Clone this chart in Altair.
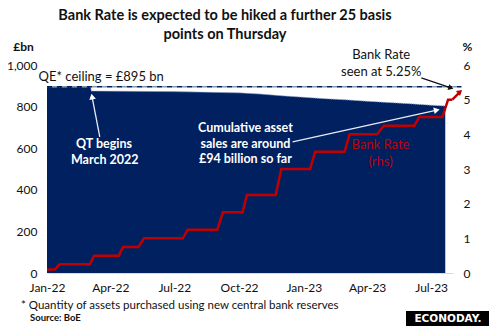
import math
import altair as alt
import pandas as pd

# ---------------- data ----------------
area_dates = ["2022-01-01", "2022-03-04", "2022-03-05", "2022-07-01", "2022-10-01",
              "2022-11-01", "2022-12-01", "2023-01-01", "2023-02-01", "2023-03-01",
              "2023-04-01", "2023-05-01", "2023-06-01", "2023-07-01", "2023-07-21"]
area_values = [895, 895, 875, 872, 866, 860, 852, 845, 838, 833, 826, 820, 814, 807, 803]

rate_dates = ["2022-01-01", "2022-01-12", "2022-01-19", "2022-03-03", "2022-03-09",
              "2022-04-13", "2022-04-19", "2022-05-11", "2022-05-19", "2022-07-13",
              "2022-07-20", "2022-08-31", "2022-09-08", "2022-10-06", "2022-10-12",
              "2022-11-22", "2022-11-30", "2023-01-10", "2023-01-17", "2023-02-28",
              "2023-03-07", "2023-04-15", "2023-04-25", "2023-06-07", "2023-06-14",
              "2023-07-17", "2023-07-25", "2023-07-31"]
rate_values = [0.1, 0.1, 0.25, 0.25, 0.5, 0.5, 0.75, 0.75, 1.0, 1.0, 1.25, 1.25, 1.75,
               1.75, 2.25, 2.25, 3.0, 3.0, 3.5, 3.5, 4.0, 4.0, 4.25, 4.25, 4.5, 4.5,
               5.0, 5.0]

# expected hike: 5.00 -> 5.25
hike_dates = ["2023-07-31", "2023-08-10"]
hike_values = [5.0, 5.2]

ceiling_dates = ["2022-01-01", "2023-08-13"]
ceiling_values = [895, 895]

x_tick_dates = ["2022-01-01", "2022-04-01", "2022-07-01", "2022-10-01",
                "2023-01-01", "2023-04-01", "2023-07-01"]
left_ticks = [0, 200, 400, 600, 800, 1000]
right_ticks = [0, 1, 2, 3, 4, 5, 6]

title_lines = ["Bank Rate is expected to be hiked a further 25 basis",
               "points on Thursday"]

# annotations (anchored in data coordinates: date, £bn)
black_texts = ["QE* ceiling = £895 bn", "Bank Rate", "seen at 5.25%"]
black_dates = ["2022-03-19", "2023-04-21", "2023-04-21"]
black_vals = [942, 1048, 966]

white_texts = ["QT  begins", "March 2022", "Cumulative asset", "sales are around",
               "£94 billion so far"]
white_dates = ["2022-03-23", "2022-03-24", "2022-10-10", "2022-10-10", "2022-10-10"]
white_vals = [620, 543, 697, 620, 548]

red_texts = ["Bank Rate", "(rhs)"]
red_dates = ["2023-04-20", "2023-04-20"]
red_vals = [615, 534]

# arrows: start -> tip
white_arrow_ids = ["qt", "qt", "cum", "cum"]
white_arrow_dates = ["2022-03-17", "2022-03-06", "2022-12-16", "2023-07-09"]
white_arrow_vals = [654, 848, 630, 783]
black_arrow_dates = ["2023-06-17", "2023-07-29"]
black_arrow_vals = [938, 890]

footnote = "* Quantity of assets purchased using new central bank reserves"
source = "Source: BoE"
logo = "ECONODAY."

# ---------------- styling ----------------
FONT = "Lato"
NAVY = "#002060"
RED = "#c00000"

def df(**cols):
    d = pd.DataFrame(cols)
    if "date" in d:
        d["date"] = pd.to_datetime(d["date"])
    return d

dt = lambda s: alt.DateTime(year=int(s[:4]), month=int(s[5:7]), date=int(s[8:10]))

xscale = alt.Scale(domain=[dt("2022-01-01"), dt("2023-08-01")])
xaxis = alt.Axis(values=[dt(s) for s in x_tick_dates], format="%b-%y", labelFont=FONT,
                 labelFontSize=12, labelColor="#111", ticks=False, grid=False,
                 domainColor="#d9d9d9", domainWidth=1, labelPadding=9, title=None,
                 labelFlush=False)
lscale = alt.Scale(domain=[0, 1000], nice=False)
laxis = alt.Axis(values=left_ticks, format=",.0f", labelFont=FONT, labelFontSize=12,
                 labelColor="#111", ticks=False, grid=False, domain=False,
                 labelPadding=10, title="£bn", titleAngle=0, titleX=-24, titleY=-19,
                 titleAlign="center", titleBaseline="middle", titleFont=FONT,
                 titleFontSize=12, titleFontWeight="bold", titleColor="#111")
rscale = alt.Scale(domain=[0, 6], nice=False)
raxis = alt.Axis(values=right_ticks, orient="right", labelFont=FONT, labelFontSize=12,
                 labelColor="#111", ticks=False, grid=False, domain=False,
                 labelPadding=10, title="%", titleAngle=0, titleX=14, titleY=-19,
                 titleAlign="center", titleBaseline="middle", titleFont=FONT,
                 titleFontSize=12, titleFontWeight="bold", titleColor="#111")

X = lambda: alt.X("date:T", scale=xscale, axis=xaxis)
YL = lambda: alt.Y("value:Q", scale=lscale, axis=laxis)
YR = lambda: alt.Y("value:Q", scale=rscale, axis=raxis)

area = alt.Chart(df(date=area_dates, value=area_values)).mark_area(
    color=NAVY, opacity=1, line={"color": "#9fb0cc", "strokeWidth": 1, "strokeDash": [1, 1]}
).encode(x=X(), y=YL())

ceil_df = df(date=ceiling_dates, value=ceiling_values)
ceil1 = alt.Chart(ceil_df).mark_line(color=NAVY, strokeWidth=1.5, strokeDash=[5, 5],
                                     clip=False).encode(x=X(), y=YL())
ceil2 = alt.Chart(ceil_df).mark_line(color="#8497b0", strokeWidth=1.5, strokeDash=[5, 5],
                                     strokeDashOffset=5, clip=False).encode(x=X(), y=YL())

def texts(t, d, v, color, weight, size):
    return alt.Chart(df(date=d, value=v, t=t)).mark_text(
        font=FONT, fontSize=size, fontWeight=weight, color=color,
        align="center", baseline="middle"
    ).encode(x=X(), y=YL(), text="t:N")

txt_black = texts(black_texts, black_dates, black_vals, "#111", "normal", 13)
txt_white = texts(white_texts, white_dates, white_vals, "white", "bold", 12.5)
txt_red = texts(red_texts, red_dates, red_vals, RED, "normal", 13)

def angle_of(p0, p1):
    # p in (x px, y px) estimated positions -> clockwise angle from "up"
    a = math.degrees(math.atan2(p1[0] - p0[0], -(p1[1] - p0[1])))
    return a % 360

wa = alt.Chart(df(date=white_arrow_dates, value=white_arrow_vals, id=white_arrow_ids)).mark_line(
    color="#e8ecf4", strokeWidth=1.3).encode(x=X(), y=YL(), detail="id:N")
wa_heads = alt.Chart(df(date=[white_arrow_dates[1], white_arrow_dates[3]],
                        value=[white_arrow_vals[1], white_arrow_vals[3]],
                        ang=[angle_of((100, 137), (92, 96)), angle_of((293, 142), (440, 110))])
                     ).mark_point(shape="triangle-up", filled=True, color="white", size=45,
                                  opacity=1).encode(x=X(), y=YL(), angle=alt.Angle("ang:Q", scale=None))
ba = alt.Chart(df(date=black_arrow_dates, value=black_arrow_vals)).mark_line(
    color="#111", strokeWidth=1.2, clip=False).encode(x=X(), y=YL())
ba_head = alt.Chart(df(date=[black_arrow_dates[1]], value=[black_arrow_vals[1]],
                       ang=[angle_of((423, 78), (453, 88))])).mark_point(
    shape="triangle-up", filled=True, color="#111", size=35, opacity=1, clip=False
).encode(x=X(), y=YL(), angle=alt.Angle("ang:Q", scale=None))

base = alt.Chart(pd.DataFrame({"a": [0]}))
foot1 = base.mark_text(font=FONT, fontSize=11.5, color="#111", align="left",
                       baseline="middle").encode(x=alt.value(-26), y=alt.value(241),
                                                 text=alt.value(footnote))
foot2 = base.mark_text(font=FONT, fontSize=9.5, fontWeight="bold", color="#111", align="left",
                       baseline="middle").encode(x=alt.value(-17), y=alt.value(253),
                                                 text=alt.value(source))
logo_box = base.mark_rect(color="black").encode(x=alt.value(359), x2=alt.value(442),
                                                y=alt.value(246), y2=alt.value(261))
logo_txt = base.mark_text(font="DejaVu Sans", fontSize=10.5, fontWeight="bold", color="white",
                          align="center", baseline="middle").encode(
    x=alt.value(401), y=alt.value(254), text=alt.value(logo))

left = alt.layer(area, ceil1, ceil2, wa, wa_heads, ba, ba_head,
                 txt_black, txt_white, txt_red, foot1, foot2, logo_box, logo_txt)

rate_line = alt.Chart(df(date=rate_dates, value=rate_values)).mark_line(
    color=RED, strokeWidth=2.5, strokeJoin="miter").encode(x=X(), y=YR())
hike_line = alt.Chart(df(date=hike_dates, value=hike_values)).mark_line(
    color=RED, strokeWidth=2.5, clip=False).encode(x=X(), y=YR())
hike_head = alt.Chart(df(date=["2023-08-11"], value=[5.23],
                         ang=[angle_of((454, 97), (462, 90))])).mark_point(
    shape="triangle-up", filled=True, color=RED, size=40, opacity=1, clip=False
).encode(x=X(), y=YR(), angle=alt.Angle("ang:Q", scale=None))

right = alt.layer(rate_line, hike_line, hike_head)

chart = alt.layer(left, right).resolve_scale(y="independent").properties(
    width=406, height=208,
    autosize=alt.AutoSizeParams(type="none"),
    padding={"left": 47, "top": 65, "right": 36, "bottom": 53},
    title=alt.TitleParams(text=title_lines, font=FONT, fontSize=14.5, fontWeight="bold",
                          lineHeight=19, anchor="middle", frame="group", dx=-25,
                          dy=28, offset=26, color="#111"),
    background="white",
).configure_view(stroke=None)

chart.save("out.html", embed_options={"renderer": "svg", "actions": False})
